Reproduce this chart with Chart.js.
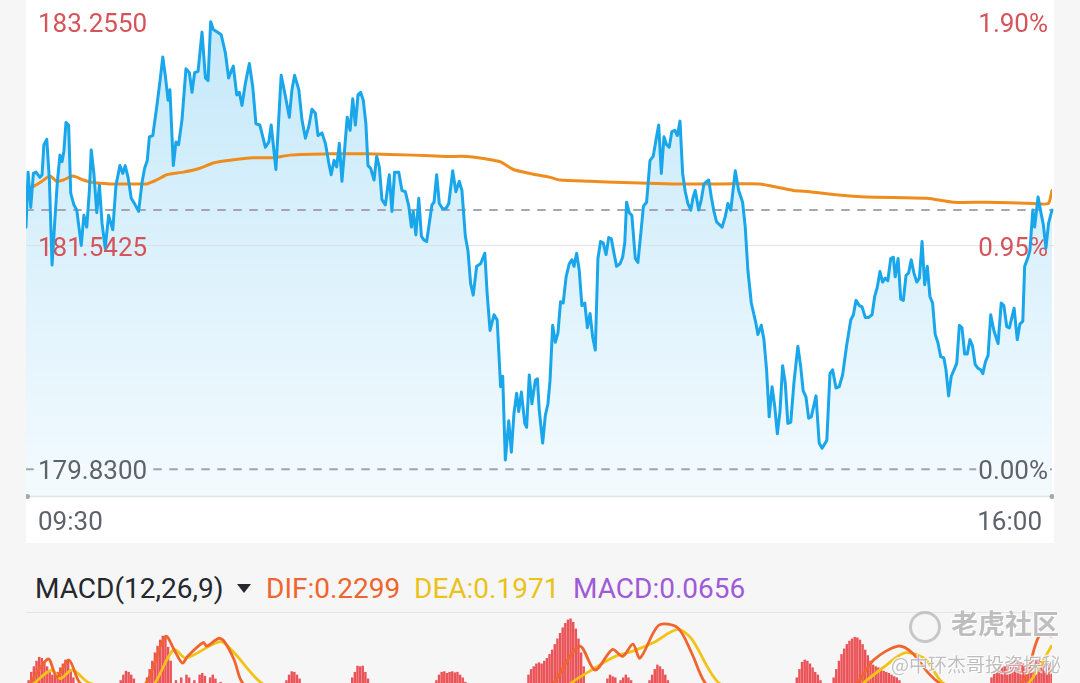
<!DOCTYPE html>
<html>
<head>
<meta charset="utf-8">
<script src="https://cdn.jsdelivr.net/npm/chart.js@4.4.1/dist/chart.umd.min.js"></script>
<style>
  html, body { margin: 0; padding: 0; }
  body { width: 1080px; height: 683px; overflow: hidden; position: relative; background: #f6f6f7; font-family: Roboto, "Noto Sans", sans-serif; }
  #pricePanel { position: absolute; left: 26px; top: 0; width: 1028px; height: 543px; background: #fff; }
  #priceChart { position: absolute; left: 0; top: 0; }
  .tlabel { position: absolute; top: 506px; font-size: 26px; line-height: 30px; color: #5d626c; }
  .mh { position: absolute; top: 573px; font-size: 28px; line-height: 32px; white-space: nowrap; }
  #tri { position: absolute; left: 237px; top: 584px; width: 0; height: 0; border-left: 7px solid transparent; border-right: 7px solid transparent; border-top: 9px solid #25282e; }
  #macdSep { position: absolute; left: 26px; top: 612px; width: 1028px; height: 1px; background: #e3e4e7; }
  #macdChart { position: absolute; left: 26px; top: 613px; }
  .wm { position: absolute; font-family: "Noto Sans CJK SC", sans-serif; color: rgba(150,150,150,0.62); text-shadow: 0 0 2px #fff, 1px 1px 0 rgba(255,255,255,0.9), -1px -1px 0 rgba(255,255,255,0.7); white-space: nowrap; }
  #wmLogo { position: absolute; left: 909px; top: 611px; width: 26px; height: 26px; border: 3px solid rgba(160,160,160,0.55); border-radius: 50%; }
</style>
</head>
<body>
<div id="pricePanel"><canvas id="priceChart" width="1028" height="543"></canvas></div>
<div class="tlabel" style="left:38px">09:30</div>
<div class="tlabel" style="right:38px">16:00</div>

<div class="mh" style="left:35px;color:#25282e">MACD(12,26,9)</div>
<div id="tri"></div>
<div class="mh" style="left:266px;color:#f0652d">DIF:0.2299</div>
<div class="mh" style="left:414px;color:#eac21a">DEA:0.1971</div>
<div class="mh" style="left:573px;color:#a05ad6">MACD:0.0656</div>
<div id="macdSep"></div>
<canvas id="macdChart" width="1028" height="200"></canvas>

<div id="wmLogo"></div>
<div class="wm" style="left:951px;top:605px;font-size:27px;line-height:36px;font-weight:bold">老虎社区</div>
<div class="wm" style="left:891px;top:651px;font-size:19px;line-height:26px">@中环杰哥投资探秘</div>

<script>
// session minutes from 09:30 and last price at each of those minutes
const priceMinutes = [0,0.8,1.8,2.8,3.8,5.3,6.1,6.8,7.9,8.9,9.9,10.9,11.9,12.9,13.7,14.4,15.2,16.2,17,18.2,19.3,21,22,23.1,24.1,24.8,25.8,26.9,27.9,28.9,30.1,31.4,33,34.2,35.7,36.8,37.7,38.8,40,41.5,42.8,44.1,45.1,46.1,46.9,48.2,49.7,50.9,52,53,54,54.7,56,57,58,59.3,60.8,62.1,63.1,64.1,65.4,66.9,68.2,69.2,70.2,71.2,72.7,74.2,75.8,77,78.8,80.1,81.1,82.1,83.4,84.9,86.2,87.4,88.9,91,92.3,93.2,95,97,98.6,100.1,101.1,102.1,103.7,104.9,106.2,107.5,108.7,110,111,112.5,113.8,115.1,116,117.1,118.1,119.1,120.1,121.1,122.1,123.2,124.2,125.2,126.2,127.2,128.2,129.2,130,131,132.3,133.3,134.3,135.3,136.6,138.1,139.1,140.1,141.7,142.9,144.2,145.5,146.5,147.2,148.2,149.3,150.3,151.3,152.3,153.3,154.3,155.1,156.1,157.1,158.4,159.6,160.7,162.2,163.4,164.7,165.7,167,168,169,170,171.3,172.8,174.4,175.3,176.4,177.9,179.1,180.4,181.2,182.2,183.5,184.5,185.5,186.5,187.3,188.3,189.6,190.3,191.3,192.3,193.6,194.4,195.1,196.4,197.4,198.4,199.2,200.2,201.2,202.2,203.2,204.2,205.3,206.5,207.5,208.3,209.3,210.3,211.3,212.4,213.4,214.4,215.4,216.4,217.4,218.4,219.4,220.5,221.5,222.5,223.5,224.5,225.8,226.8,227.6,228.3,229.3,230.3,231.6,232.6,233.7,234.7,235.9,237.2,238.4,239.5,240.5,241.5,242.5,243.5,244.5,245.5,246.6,247.6,248.6,249.6,250.6,251.6,252.7,253.6,254.4,255.7,256.7,257.7,259.5,260.5,261.5,262.5,264.6,265.8,266.8,267.9,269.6,270.9,272.4,273.4,274.4,275.7,277.5,278.2,279.5,280.5,281.5,282.5,283.6,284.6,285.6,286.6,287.6,288.6,289.6,290.7,291.9,293.4,294.5,295.4,296.5,297.5,298.5,300.3,301.5,302.6,304.4,305.6,306.6,307.9,309.1,310.4,311.9,313.5,314.5,315.5,316.8,317.8,319,320.3,321.6,322.6,323.6,324.6,325.6,326.6,327.6,328.7,329.7,330.4,331.5,332.5,333.5,334.5,335.5,336.5,337.5,338.6,339.6,340.6,341.6,342.6,343.6,344.6,345.6,346.6,347.7,348.9,349.7,350.7,351.7,353,353.8,354.8,355.8,356.8,357.8,358.8,359.8,360.8,361.9,362.9,363.7,364.7,365.7,366.7,367.9,369.5,370.7,371.7,372.8,373.8,375.6,376.8,377.8,378.9,379.6,380.9,381.6,382.7,383.4,384.7,385.7,386.7,387.7,388.7,390];
const prices = [181.68,182.10,181.83,182.09,182.10,182.06,182.08,182.31,182.35,182.04,181.39,181.71,182.02,182.23,182.18,182.26,182.48,182.46,181.94,181.85,181.81,181.54,181.77,181.68,181.96,182.27,182.09,181.79,182.00,181.71,181.52,181.77,181.66,182.00,182.15,182.09,182.15,182.06,181.90,181.85,181.80,182.02,182.13,182.19,182.37,182.38,182.60,182.79,182.98,182.83,182.65,182.73,182.15,182.33,182.31,182.50,182.89,182.86,182.71,182.86,182.87,183.17,182.82,182.80,183.25,183.19,183.17,183.15,183.01,182.82,182.91,182.69,182.71,182.61,182.78,182.93,182.75,182.47,182.46,182.29,182.33,182.46,182.12,182.84,182.68,182.52,182.73,182.84,182.73,182.50,182.36,182.45,182.58,182.55,182.38,182.40,182.32,182.17,182.08,182.19,182.14,182.32,182.03,182.27,182.52,182.42,182.66,182.46,182.69,182.71,182.65,182.47,182.15,182.13,182.04,182.22,182.14,181.89,181.85,182.08,181.80,182.10,182.10,181.96,181.95,181.84,181.68,181.80,181.62,181.90,181.61,181.58,181.57,181.71,181.85,181.87,182.08,181.86,181.82,181.82,181.86,182.11,181.95,182.03,181.96,181.61,181.50,181.25,181.16,181.38,181.40,181.48,181.17,180.89,181.01,180.97,180.46,180.54,179.90,180.20,179.96,180.26,180.41,180.27,180.42,180.18,180.15,180.55,180.33,180.51,180.52,180.28,180.03,180.24,180.33,180.51,180.93,180.80,180.87,181.11,181.10,181.30,181.40,181.43,181.38,181.48,181.35,181.08,181.10,180.91,181.02,180.84,180.74,181.44,181.57,181.56,181.47,181.60,181.59,181.48,181.38,181.40,181.45,181.56,181.87,181.79,181.77,181.44,181.41,181.63,181.84,181.87,182.19,182.22,182.35,182.46,182.09,182.37,182.31,182.29,182.41,182.42,182.38,182.49,182.09,181.95,181.86,181.81,181.91,181.96,181.81,181.89,182.01,182.04,181.91,181.80,181.72,181.68,181.76,181.86,181.81,182.11,181.96,181.87,181.68,181.35,181.10,180.94,180.86,180.93,180.82,180.59,180.23,180.46,180.31,180.10,180.27,180.62,180.49,180.18,180.19,180.49,180.77,180.61,180.43,180.38,180.22,180.23,180.39,180.03,179.99,180.05,180.56,180.59,180.45,180.46,180.55,180.77,180.97,181.01,181.12,181.08,181.07,180.99,180.99,181.01,181.15,181.22,181.34,181.26,181.29,181.27,181.44,181.45,181.30,181.44,181.13,181.12,181.31,181.33,181.43,181.33,181.26,181.29,181.57,181.24,181.38,181.15,181.10,180.86,180.80,180.69,180.68,180.59,180.39,180.54,180.60,180.64,180.93,180.91,180.71,180.71,180.82,180.77,180.63,180.60,180.59,180.56,180.65,180.70,181.01,180.89,180.79,181.10,181.08,180.92,180.91,181.06,180.82,180.94,180.96,181.38,181.45,181.50,181.81,181.68,181.91,181.80,181.70,181.52,181.71,181.81];

// average price line
const avgMinutes = [0,2.8,6.1,9.1,11.7,14.2,17.8,21.8,25.6,31.9,39.5,45.9,49.7,53.5,59.8,66.1,71.2,77.5,86.4,94,100.3,115.6,129.5,147.2,159.9,167.5,175.1,180.2,185.2,191.6,199.2,203,214.4,227,246,265.1,279,284.1,291.7,298,306.8,319.6,342.4,352.5,365.2,382.9,388.6,390];
const avgPrices = [181.98,181.99,182.03,182.07,182.03,182.04,182.07,182.04,182.02,182.01,182.01,182.01,182.04,182.08,182.10,182.13,182.17,182.19,182.21,182.21,182.23,182.24,182.24,182.23,182.22,182.22,182.20,182.18,182.12,182.09,182.06,182.04,182.03,182.02,182.01,182.01,182.01,181.99,181.96,181.95,181.93,181.91,181.90,181.87,181.87,181.86,181.86,181.96];

const prevClose = 179.83;
const lastPrice = 181.81;
const priceTicks = [179.83, 181.5425, 183.255];

// MACD(12,26,9)
const difMinutes = [0,8.4,11.7,16.3,20.5,28,40,45.7,53,56.9,59.5,61.5,67.4,68.7,73.2,75.2,79.1,81.7,85.7,100,125,160,180,195,200.6,210.4,216.3,222.9,226.8,230.7,233.4,240.5,247.7,253,258.2,270,290,305,315.8,322.3,331.5,336.8,343.2,347.2,355,365,378.6,385.2,390];
const difValues = [0.036,0.148,0.083,0.144,0.061,0.02,0.05,0.061,0.229,0.17,0.133,0.158,0.207,0.194,0.222,0.213,0.145,0.071,0.03,0.02,0.03,0.02,-0.05,0,0.061,0.194,0.108,0.182,0.157,0.201,0.151,0.269,0.26,0.17,0.061,-0.05,-0.05,0,0.061,0.145,0.194,0.17,0.095,0.061,0.02,0,0.061,0.232,0.2299];
const deaMinutes = [0,3.2,9.8,13,17.6,24.1,35,45,49,56.2,60.8,73.9,79.1,89.6,100,130,160,190,200,207.2,215,223.5,230.7,238.6,247.7,253,263.4,280,300,315,318.4,326.3,334.1,342,348.6,360,375,381.2,390];
const deaValues = [0.03,0.061,0.108,0.077,0.108,0.061,0.04,0.03,0.061,0.182,0.151,0.21,0.17,0.061,0.03,0.02,0.02,-0.02,0,0.061,0.108,0.155,0.176,0.207,0.254,0.22,0.061,0,-0.02,0.02,0.061,0.12,0.17,0.145,0.061,0.03,0.03,0.061,0.1971];
const histMinutes = [1,2,3,4,5,6,7,8,9,10,11,12,13,14,15,16,17,18,
  36,37,38,39,40,41,42,
  46,47,48,49,50,51,52,53,54,55,
  57,59,61,62,64,66,67,68,70,71,72,74,
  99,100,101,102,103,104,105,
  124,125,126,127,128,129,130,
  156,157,158,159,160,161,162,163,164,165,166,167,
  191,192,193,194,195,196,197,198,199,200,201,202,203,204,205,206,207,208,209,210,211,212,
  220,221,222,223,224,226,227,228,229,230,231,
  237,238,239,240,241,242,243,244,
  293,294,295,296,297,298,299,300,301,302,
  307,308,309,310,311,312,313,314,315,316,317,318,319,320,321,322,323,324,325,326,327,328,329,330,331,332,
  367,368,369,370,371,372,373,374,375,376,377,378,379,380,381,382,383,384,385,386,387,388,389,390];
const histValues = [0.035,0.05,0.06,0.07,0.077,0.075,0.068,0.06,0.05,0.045,0.045,0.05,0.058,0.065,0.072,0.07,0.055,0.04,
  0.035,0.045,0.052,0.05,0.045,0.038,0.03,
  0.04,0.055,0.07,0.085,0.097,0.108,0.115,0.112,0.095,0.07,
  0.035,0.04,0.045,0.04,0.035,0.045,0.048,0.043,0.04,0.045,0.038,0.032,
  0.035,0.045,0.051,0.05,0.045,0.038,0.03,
  0.04,0.05,0.061,0.06,0.061,0.05,0.038,
  0.035,0.045,0.05,0.051,0.048,0.05,0.051,0.049,0.05,0.045,0.04,0.032,
  0.045,0.055,0.06,0.065,0.067,0.065,0.07,0.075,0.082,0.09,0.1,0.11,0.12,0.13,0.138,0.144,0.146,0.14,0.128,0.11,0.085,0.06,
  0.03,0.038,0.045,0.042,0.04,0.035,0.04,0.045,0.04,0.035,0.03,
  0.035,0.045,0.055,0.063,0.06,0.055,0.045,0.035,
  0.04,0.055,0.068,0.072,0.07,0.065,0.058,0.05,0.045,0.035,
  0.04,0.055,0.07,0.082,0.092,0.1,0.106,0.11,0.113,0.112,0.108,0.1,0.09,0.08,0.07,0.063,0.06,0.058,0.055,0.052,0.05,0.048,0.045,0.042,0.04,0.035,
  0.04,0.05,0.055,0.06,0.058,0.06,0.065,0.068,0.07,0.072,0.07,0.068,0.065,0.06,0.062,0.066,0.07,0.072,0.072,0.07,0.068,0.066,0.066,0.0656];

const toPoints = (xs, ys) => xs.map((x, i) => ({ x: x, y: ys[i] }));
const pctLabel = p => ((p - prevClose) / prevClose * 100).toFixed(2) + '%';

// labels on both sides of the price panel, plus mid grid line and x axis line
const priceDecor = {
  id: 'priceDecor',
  beforeDatasetsDraw(chart) {
    const { ctx, chartArea, scales } = chart;
    const midY = scales.y.getPixelForValue(priceTicks[1]);
    ctx.save();
    ctx.strokeStyle = '#dde1e7';
    ctx.lineWidth = 1;
    ctx.beginPath();
    ctx.moveTo(chartArea.left, midY + 0.5);
    ctx.lineTo(chartArea.right + 2, midY + 0.5);
    ctx.stroke();
    ctx.font = '26px Roboto';
    ctx.textBaseline = 'middle';
    ctx.fillStyle = '#d65459';
    [1, 2].forEach(i => {
      const p = priceTicks[i];
      const y = scales.y.getPixelForValue(p) + 4;
      ctx.textAlign = 'left';
      ctx.fillText(p.toFixed(4), chartArea.left + 12, y);
      ctx.textAlign = 'right';
      ctx.fillText(pctLabel(p), chartArea.right - 4, y);
    });
    ctx.restore();
  },
  afterDatasetsDraw(chart) {
    const { ctx, chartArea, scales } = chart;
    const p = priceTicks[0];
    const y = scales.y.getPixelForValue(p) + 3;
    ctx.save();
    ctx.font = '26px Roboto';
    ctx.textBaseline = 'middle';
    const left = p.toFixed(4);
    const right = pctLabel(p);
    const lw = ctx.measureText(left).width, rw = ctx.measureText(right).width;
    ctx.fillStyle = '#f3f9fd';
    ctx.fillRect(chartArea.left + 10, y - 9, lw + 4, 14);
    ctx.fillRect(chartArea.right - rw - 6, y - 9, rw + 4, 14);
    ctx.fillStyle = '#5d626c';
    ctx.textAlign = 'left';
    ctx.fillText(left, chartArea.left + 12, y);
    ctx.textAlign = 'right';
    ctx.fillText(right, chartArea.right - 4, y);
    // x axis line with end dots
    const by = chartArea.bottom + 0.5;
    ctx.strokeStyle = '#dfe2e7';
    ctx.lineWidth = 1.5;
    ctx.beginPath();
    ctx.moveTo(chartArea.left, by);
    ctx.lineTo(chartArea.right + 2, by);
    ctx.stroke();
    ctx.fillStyle = '#a4a9b1';
    [chartArea.left + 1.5, chartArea.right].forEach(x => {
      ctx.beginPath();
      ctx.arc(x, by, 2.5, 0, Math.PI * 2);
      ctx.fill();
    });
    ctx.restore();
  }
};

new Chart(document.getElementById('priceChart'), {
  type: 'line',
  data: {
    datasets: [
      {
        data: toPoints(priceMinutes, prices),
        borderColor: '#19a6ea',
        borderWidth: 3,
        pointRadius: 0,
        tension: 0,
        clip: 6,
        fill: 'start',
        backgroundColor: c => {
          const a = c.chart.chartArea;
          if (!a) return 'rgba(25,166,234,0.15)';
          const g = c.chart.ctx.createLinearGradient(0, a.top, 0, a.bottom);
          g.addColorStop(0, 'rgba(25,166,234,0.25)');
          g.addColorStop(1, 'rgba(25,166,234,0.05)');
          return g;
        }
      },
      {
        data: toPoints(avgMinutes, avgPrices),
        borderColor: '#ee8d1d',
        borderWidth: 3,
        pointRadius: 0,
        tension: 0.2,
        fill: false
      },
      {
        data: [{ x: 0, y: lastPrice }, { x: 390, y: lastPrice }],
        borderColor: '#a2a6ae',
        borderWidth: 2,
        borderDash: [7, 9],
        pointRadius: 0,
        fill: false
      },
      {
        data: [{ x: 0, y: prevClose }, { x: 390, y: prevClose }],
        borderColor: '#a2a6ae',
        borderWidth: 2,
        borderDash: [7, 9],
        pointRadius: 0,
        fill: false
      }
    ]
  },
  options: {
    responsive: false,
    animation: false,
    devicePixelRatio: 1,
    layout: { padding: { top: 21, bottom: 47, left: 0, right: 2 } },
    elements: { line: { borderJoinStyle: 'round', borderCapStyle: 'round' } },
    scales: {
      x: { type: 'linear', min: 0, max: 390, display: false },
      y: { min: 179.625, max: 183.255, display: false }
    },
    plugins: {
      legend: { display: false },
      tooltip: { enabled: false },
      filler: { drawTime: 'beforeDatasetsDraw' }
    }
  },
  plugins: [priceDecor]
});

new Chart(document.getElementById('macdChart'), {
  type: 'bar',
  data: {
    datasets: [
      { type: 'line', data: toPoints(difMinutes, difValues), borderColor: '#f0652d', borderWidth: 2.8, pointRadius: 0, tension: 0.3, yAxisID: 'y' },
      { type: 'line', data: toPoints(deaMinutes, deaValues), borderColor: '#f2c316', borderWidth: 2.8, pointRadius: 0, tension: 0.3, yAxisID: 'y' },
      { type: 'bar', data: toPoints(histMinutes, histValues), backgroundColor: '#ea5357', barThickness: 1.8, yAxisID: 'yh' }
    ]
  },
  options: {
    responsive: false,
    animation: false,
    devicePixelRatio: 1,
    layout: { padding: { top: 0, bottom: 0, left: 0, right: 2 } },
    scales: {
      x: { type: 'linear', min: 0, max: 390, offset: false, display: false },
      y: { min: -0.4068, max: 0.3132, display: false },
      yh: { min: -0.2034, max: 0.1566, display: false }
    },
    plugins: { legend: { display: false }, tooltip: { enabled: false } }
  }
});
</script>
</body>
</html>
